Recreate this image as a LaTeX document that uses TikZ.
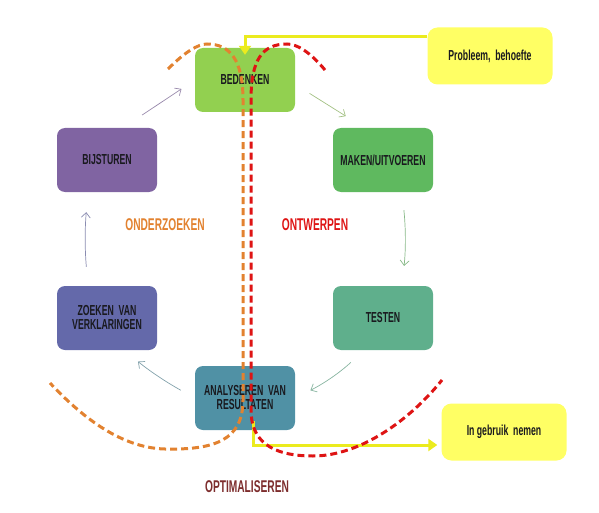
\documentclass[tikz,border=0pt]{standalone}
\usepackage{fontspec}
\setmainfont{Liberation Sans}[FakeStretch=0.6,BoldFont={Liberation Sans Bold},BoldFeatures={FakeStretch=0.6}]
\usetikzlibrary{arrows.meta}
\definecolor{cbedenken}{RGB}{146,208,80}
\definecolor{cbijsturen}{RGB}{128,100,162}
\definecolor{cmaken}{RGB}{95,185,95}
\definecolor{ctesten}{RGB}{95,175,140}
\definecolor{czoeken}{RGB}{100,105,170}
\definecolor{canalyseren}{RGB}{80,145,165}
\definecolor{geel}{RGB}{255,255,100}
\definecolor{geellijn}{RGB}{235,235,30}
\definecolor{coranje}{RGB}{226,130,48}
\definecolor{crood}{RGB}{222,20,20}
\definecolor{cbruin}{RGB}{125,45,45}
\definecolor{tekst}{RGB}{25,25,30}
\tikzset{
	blok/.style={rounded corners=8pt,minimum width=100pt,minimum height=64pt,inner sep=0pt,align=center,text=tekst,font=\fontsize{14.5}{14}\selectfont\bfseries},
	notitie/.style={fill=geel,rounded corners=10pt,minimum width=125pt,minimum height=57pt,inner sep=0pt,text=tekst,font=\fontsize{14.5}{14}\selectfont\bfseries},
	fase/.style={font=\fontsize{17}{18}\selectfont\bfseries},
	pijl/.style={line width=0.7pt,-{Straight Barb[length=5pt,width=9pt]}},
	geelpijl/.style={draw=geellijn,line width=3pt,-{Triangle[length=9pt,width=12pt]}},
	lus/.style={line width=3pt,dash pattern=on 7pt off 4pt},
}
\begin{document}
\begin{tikzpicture}[x=1pt,y=1pt]
	\useasboundingbox (0,0) rectangle (599,-513);
	\foreach \naam/\x/\y/\kleur/\tekst in {
		bedenken/245/80/cbedenken/BEDENKEN,
		bijsturen/107/160/cbijsturen/BIJSTUREN,
		maken/383/160/cmaken/{MAKEN/UITVOEREN},
		testen/383/318/ctesten/TESTEN,
		zoeken/107/318/czoeken/{ZOEKEN\ \ VAN\\VERKLARINGEN},
		analyseren/245/398/canalyseren/{ANALYSEREN\ \ VAN\\RESULTATEN}} {
		\node[blok,fill=\kleur] (\naam) at (\x,-\y) {\tekst};
	};
	\node[notitie] (probleem) at (490,-56) {Probleem,\ \ behoefte};
	\node[notitie] (gebruik) at (504,-432) {In gebruik\ \ nemen};
	\node[fase,text=coranje] (onderzoeken) at (165,-225) {ONDERZOEKEN};
	\node[fase,text=crood] (ontwerpen) at (315,-225) {ONTWERPEN};
	\node[fase,text=cbruin] (optimaliseren) at (247,-487) {OPTIMALISEREN};
	% de cyclus
	\draw[pijl,draw=cbedenken!60!gray!80,shorten <=17pt,shorten >=22pt] (bedenken.-5) -- (maken.120);
	\draw[pijl,draw=cmaken!70!gray!80,shorten <=18pt,shorten >=20pt] ([xshift=19pt]maken.south) to[bend left=6] ([xshift=19pt]testen.north);
	\draw[pijl,draw=ctesten!70!gray!80,shorten <=18pt,shorten >=17pt] ([xshift=-19pt]testen.south) to[bend left=8] (analyseren.east);
	\draw[pijl,draw=canalyseren!60!gray!80,shorten <=16pt,shorten >=18pt] (analyseren.west) to[bend left=5] ([xshift=17pt]zoeken.south);
	\draw[pijl,draw=czoeken!70!gray!80,shorten <=19pt,shorten >=20pt] ([xshift=-19pt]zoeken.north) to[bend left=5] ([xshift=-19pt]bijsturen.south);
	\draw[pijl,draw=cbijsturen!70!gray!80,shorten <=23pt,shorten >=16pt] ([xshift=16pt]bijsturen.north) -- (bedenken.west);
	% in en uit
	\draw[geelpijl] ([yshift=19pt]probleem.west) -| ([yshift=-7pt]bedenken.north);
	\draw[geelpijl,shorten >=4pt] ([xshift=8pt,yshift=9pt]analyseren.south) |- ([yshift=-13pt]gebruik.west);
	% onderzoeken en ontwerpen
	\draw[lus,draw=coranje] (168,-69) .. controls (185,-52) and (198,-44) .. (207,-44)
		.. controls (230,-44) and (243,-60) .. (243,-100) -- (243,-400)
		.. controls (243,-440) and (215,-450) .. (165,-449)
		.. controls (120,-448) and (80,-415) .. (50,-383);
	\draw[lus,draw=crood] (325,-70) .. controls (310,-52) and (297,-44) .. (287,-44)
		.. controls (262,-44) and (251,-60) .. (251,-100) -- (251,-410)
		.. controls (251,-440) and (270,-456) .. (313,-456)
		.. controls (360,-456) and (410,-420) .. (442,-380);
\end{tikzpicture}
\end{document}
